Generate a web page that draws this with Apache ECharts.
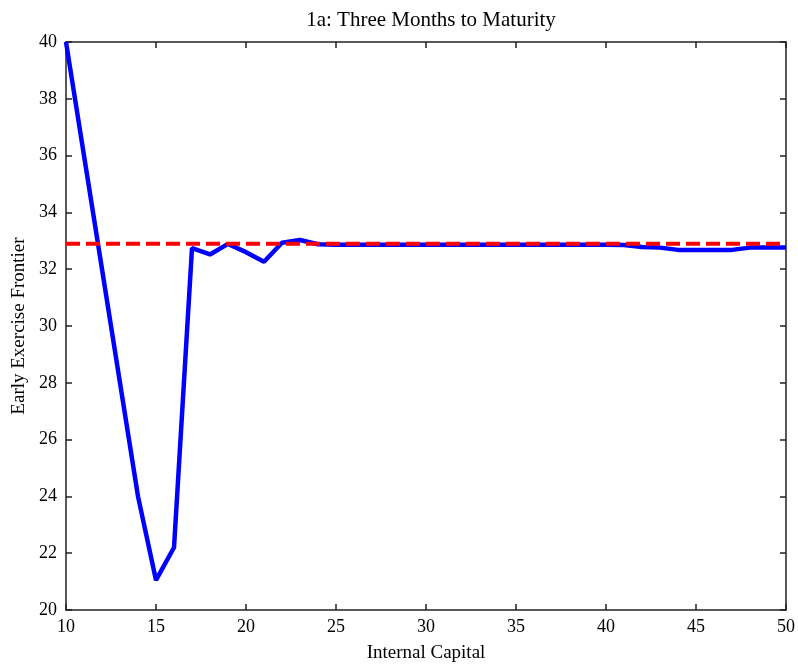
<!DOCTYPE html>
<html><head><meta charset="utf-8">
<script src="https://cdn.jsdelivr.net/npm/echarts@6/dist/echarts.min.js"></script>
<style>html,body{margin:0;padding:0;background:#fff}#c{width:798px;height:668px}</style>
</head><body><div id="c"></div>
<script>
const capital = [10,11,12,13,14,15,16,17,18,19,20,21,22,23,24,25,26,27,28,29,30,31,32,33,34,35,36,37,38,39,40,41,42,43,44,45,46,47,48,49,50];
const frontier = [40,36,32,28,24,21.05,22.2,32.74,32.52,32.89,32.6,32.26,32.93,33.03,32.88,32.86,32.86,32.86,32.86,32.86,32.86,32.86,32.86,32.86,32.86,32.86,32.86,32.86,32.86,32.86,32.86,32.85,32.78,32.76,32.68,32.68,32.68,32.68,32.76,32.76,32.76];
const benchmark = 32.9;
const xTicks = [10,15,20,25,30,35,40,45,50];
const yTicks = [20,22,24,26,28,30,32,34,36,38,40];

const serif = '"Liberation Serif","DejaVu Serif",serif';
const axisLine = {show:true,lineStyle:{color:'#222',width:1.5}};
const tick = {show:true,inside:true,length:6,lineStyle:{color:'#222',width:1.5}};
const chart = echarts.init(document.getElementById('c'));
chart.setOption({
  animation:false,
  backgroundColor:'#fff',
  title:{text:'1a: Three Months to Maturity',left:426,top:5,textAlign:'center',
    textStyle:{fontFamily:serif,fontWeight:'normal',fontSize:21,color:'#000'}},
  grid:{left:66,right:11,top:42,bottom:58},
  xAxis:[{type:'value',min:xTicks[0],max:xTicks[xTicks.length-1],interval:5,
    name:'Internal Capital',nameLocation:'middle',nameGap:34,
    nameTextStyle:{fontFamily:serif,fontSize:19,color:'#000'},
    axisLine:axisLine,axisTick:tick,splitLine:{show:false},
    axisLabel:{fontFamily:serif,fontSize:18,color:'#000',margin:8}},
   {type:'value',position:'top',min:10,max:50,interval:5,axisLine:axisLine,axisTick:tick,
    axisLabel:{show:false},splitLine:{show:false}}],
  yAxis:[{type:'value',min:yTicks[0],max:yTicks[yTicks.length-1],interval:2,
    name:'Early Exercise Frontier',nameLocation:'middle',nameGap:34,
    nameTextStyle:{fontFamily:serif,fontSize:19,color:'#000'},
    axisLine:axisLine,axisTick:tick,splitLine:{show:false},
    axisLabel:{fontFamily:serif,fontSize:18,color:'#000',margin:9}},
   {type:'value',position:'right',min:20,max:40,interval:2,axisLine:axisLine,axisTick:tick,
    axisLabel:{show:false},splitLine:{show:false}}],
  series:[
    {type:'line',data:capital.map((c,i)=>[c,frontier[i]]),showSymbol:false,
     lineStyle:{color:'#0000ff',width:4.5},z:2},
    {type:'line',data:[[capital[0],benchmark],[capital[capital.length-1],benchmark]],showSymbol:false,
     lineStyle:{color:'#ff0000',width:4,type:[14,6]},z:3}
  ]
});
</script></body></html>
